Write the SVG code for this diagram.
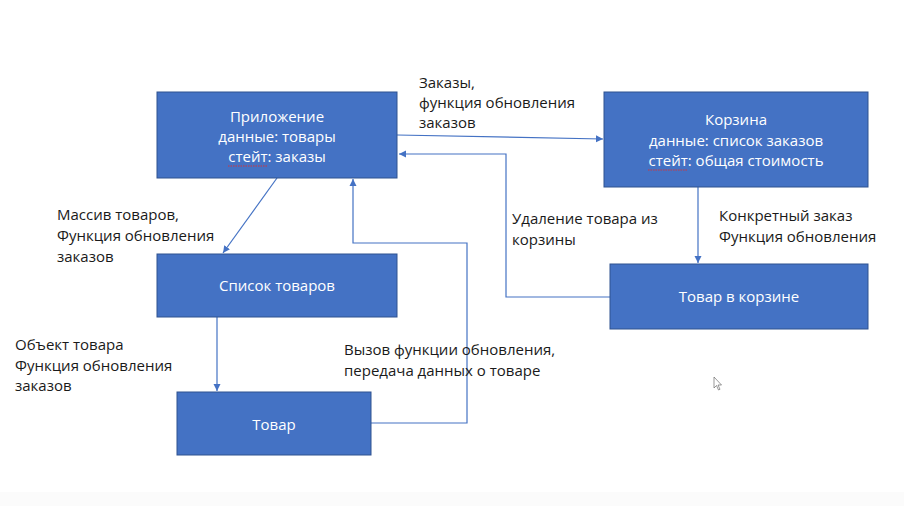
<svg xmlns="http://www.w3.org/2000/svg" width="904" height="506" viewBox="0 0 904 506">
<defs>
<marker id="ah" markerWidth="8" markerHeight="8" refX="7" refY="4" orient="auto" markerUnits="userSpaceOnUse">
<path d="M0,0.5 L7,4 L0,7.5 Z" fill="#4472C4"/>
</marker>
<style>
.box{fill:#4472C4;stroke:#2F528F;stroke-width:1}
.bt{font-family:"Open Sans","Liberation Sans",sans-serif;font-size:15px;fill:#FFFFFF;text-anchor:middle}
.lt{font-family:"Open Sans","Liberation Sans",sans-serif;font-size:15px;fill:#1a1a1a}
.cn{fill:none;stroke:#4472C4;stroke-width:1.2}
.sq{fill:none;stroke:#E03030;stroke-width:0.9;stroke-dasharray:1.5 1}
</style>
</defs>
<rect x="0" y="0" width="904" height="506" fill="#FFFFFF"/>
<rect x="0" y="492" width="904" height="14" fill="#FBFBFB"/>

<g id="connectors">
<path class="cn" d="M397,135 L603,139" marker-end="url(#ah)"/>
<path class="cn" d="M610,297 L506,297 L506,154 L399,154" marker-end="url(#ah)"/>
<path class="cn" d="M698,187 L698,263" marker-end="url(#ah)"/>
<path class="cn" d="M277,178 L223,253" marker-end="url(#ah)"/>
<path class="cn" d="M217,317 L217,391" marker-end="url(#ah)"/>
<path class="cn" d="M371,423 L467,423 L467,243 L353,243 L353,179" marker-end="url(#ah)"/>
</g>

<g id="app">
<rect class="box" x="157" y="92" width="240" height="86"/>
<text class="bt" x="277" y="122">Приложение</text>
<text class="bt" x="277" y="142">данные: товары</text>
<text class="bt" x="277" y="162">стейт: заказы</text>
<path class="sq" d="M228,166 L267,166"/>
</g>

<g id="cart">
<rect class="box" x="604" y="92" width="264" height="95"/>
<text class="bt" x="736" y="125">Корзина</text>
<text class="bt" x="736" y="146">данные: список заказов</text>
<text class="bt" x="736" y="166">стейт: общая стоимость</text>
<path class="sq" d="M648,170 L687,170"/>
</g>

<g id="list">
<rect class="box" x="157" y="254" width="240" height="63"/>
<text class="bt" x="277" y="291">Список товаров</text>
</g>

<g id="cartitem">
<rect class="box" x="610" y="264" width="258" height="65"/>
<text class="bt" x="739" y="302">Товар в корзине</text>
</g>

<g id="item">
<rect class="box" x="177" y="392" width="194" height="63"/>
<text class="bt" x="274" y="430">Товар</text>
</g>

<g id="labels">
<text class="lt" x="419" y="88">Заказы,</text>
<text class="lt" x="419" y="108">функция обновления</text>
<text class="lt" x="419" y="128">заказов</text>

<text class="lt" x="57" y="220">Массив товаров,</text>
<text class="lt" x="57" y="241">Функция обновления</text>
<text class="lt" x="57" y="262">заказов</text>

<text class="lt" x="512" y="224">Удаление товара из</text>
<text class="lt" x="512" y="245">корзины</text>

<text class="lt" x="719" y="221">Конкретный заказ</text>
<text class="lt" x="719" y="242">Функция обновления</text>

<text class="lt" x="15" y="350">Объект товара</text>
<text class="lt" x="15" y="371">Функция обновления</text>
<text class="lt" x="15" y="391">заказов</text>

<text class="lt" x="344" y="355">Вызов функции обновления,</text>
<text class="lt" x="344" y="376">передача данных о товаре</text>
</g>

<path d="M714,377 L714,388 L716.5,385.5 L718.5,390 L720,389.3 L718,385 L721.5,385 Z" fill="#FFFFFF" stroke="#555" stroke-width="0.6"/>
</svg>
